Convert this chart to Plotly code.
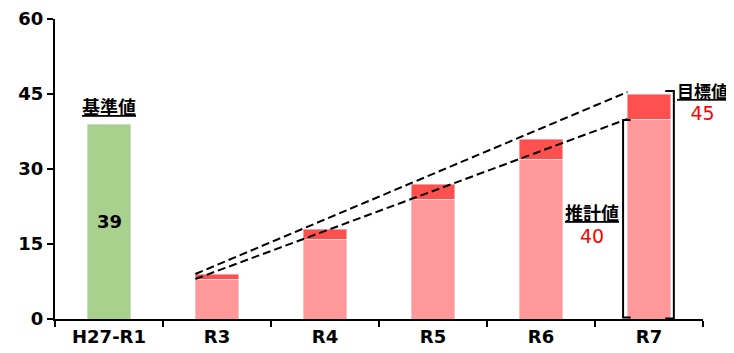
import plotly.graph_objects as go

categories = ["H27-R1", "R3", "R4", "R5", "R6", "R7"]
base_value = [39, None, None, None, None, None]
estimated = [None, 8, 16, 24, 32, 40]
target_extra = [None, 1, 2, 3, 4, 5]

FONT = "DejaVu Sans"
JP = "Noto Sans CJK JP"

fig = go.Figure()
fig.add_trace(go.Bar(x=categories, y=base_value, marker_color="#A9D18E", width=0.4))
fig.add_trace(go.Bar(x=categories, y=estimated, marker_color="#FF9999", width=0.4))
fig.add_trace(go.Bar(x=categories, y=target_extra, marker_color="#FF5050", width=0.4))

# dashed trend lines joining the top-left corners of R3 and R7
totals = [e + t for e, t in zip(estimated[1:], target_extra[1:])]
dash = dict(color="black", width=2, dash="8px,4px")
fig.add_shape(type="line", x0=1 - 0.2, y0=totals[0], x1=5 - 0.2, y1=totals[-1] + 0.4, line=dash)
fig.add_shape(type="line", x0=1 - 0.2, y0=estimated[1], x1=5 - 0.2, y1=estimated[-1], line=dash)

# brackets around R7
br = dict(color="black", width=2)
fig.add_shape(type="path", path="M 5.15,45.6 L 5.23,45.6 L 5.23,0.1 L 5.15,0.1", line=br)
fig.add_shape(type="path", path="M 4.83,39.8 L 4.76,39.8 L 4.76,0.3 L 4.83,0.3", line=br)

red = "<span style='color:red;font-family:DejaVu Sans;font-size:19px'>%s</span>"
fig.add_annotation(x=0, y=19.5, text="<b>39</b>", showarrow=False,
                   font=dict(family=FONT, size=18, color="black"))
fig.add_annotation(x=0, y=42.6, text="<b><u>基準値</u></b>", showarrow=False,
                   font=dict(family=JP, size=18, color="black"))
fig.add_annotation(xref="paper", x=0.999, xanchor="center", y=43.6,
                   text="<b><u>目標値</u></b><br>" + red % "45",
                   showarrow=False, align="center",
                   font=dict(family=JP, size=17, color="black"))
fig.add_annotation(x=4.47, y=19.3, text="<b><u>推計値</u></b><br>" + red % "40",
                   showarrow=False, align="center",
                   font=dict(family=JP, size=18, color="black"))

fig.update_layout(
    width=726, height=345,
    margin=dict(l=47, r=31, t=11, b=34),
    barmode="stack",
    showlegend=False,
    plot_bgcolor="white",
    paper_bgcolor="white",
)
fig.update_xaxes(
    type="category", range=[-0.5, 5.5], tickson="boundaries", ticks="outside",
    ticklen=6, tickwidth=2,
    tickcolor="black", showline=True, linecolor="black", linewidth=2, showgrid=False,
    automargin=False,
    tickfont=dict(family=FONT, size=18, color="black", weight="bold"),
)
fig.update_yaxes(
    range=[0, 60], tickvals=[0, 15, 30, 45, 60], ticks="outside", ticklen=6, tickwidth=2,
    tickcolor="black", showline=True, linecolor="black", linewidth=2, showgrid=False,
    zeroline=False, automargin=False,
    tickfont=dict(family=FONT, size=18, color="black", weight="bold"),
)

fig.write_html("out.html")
